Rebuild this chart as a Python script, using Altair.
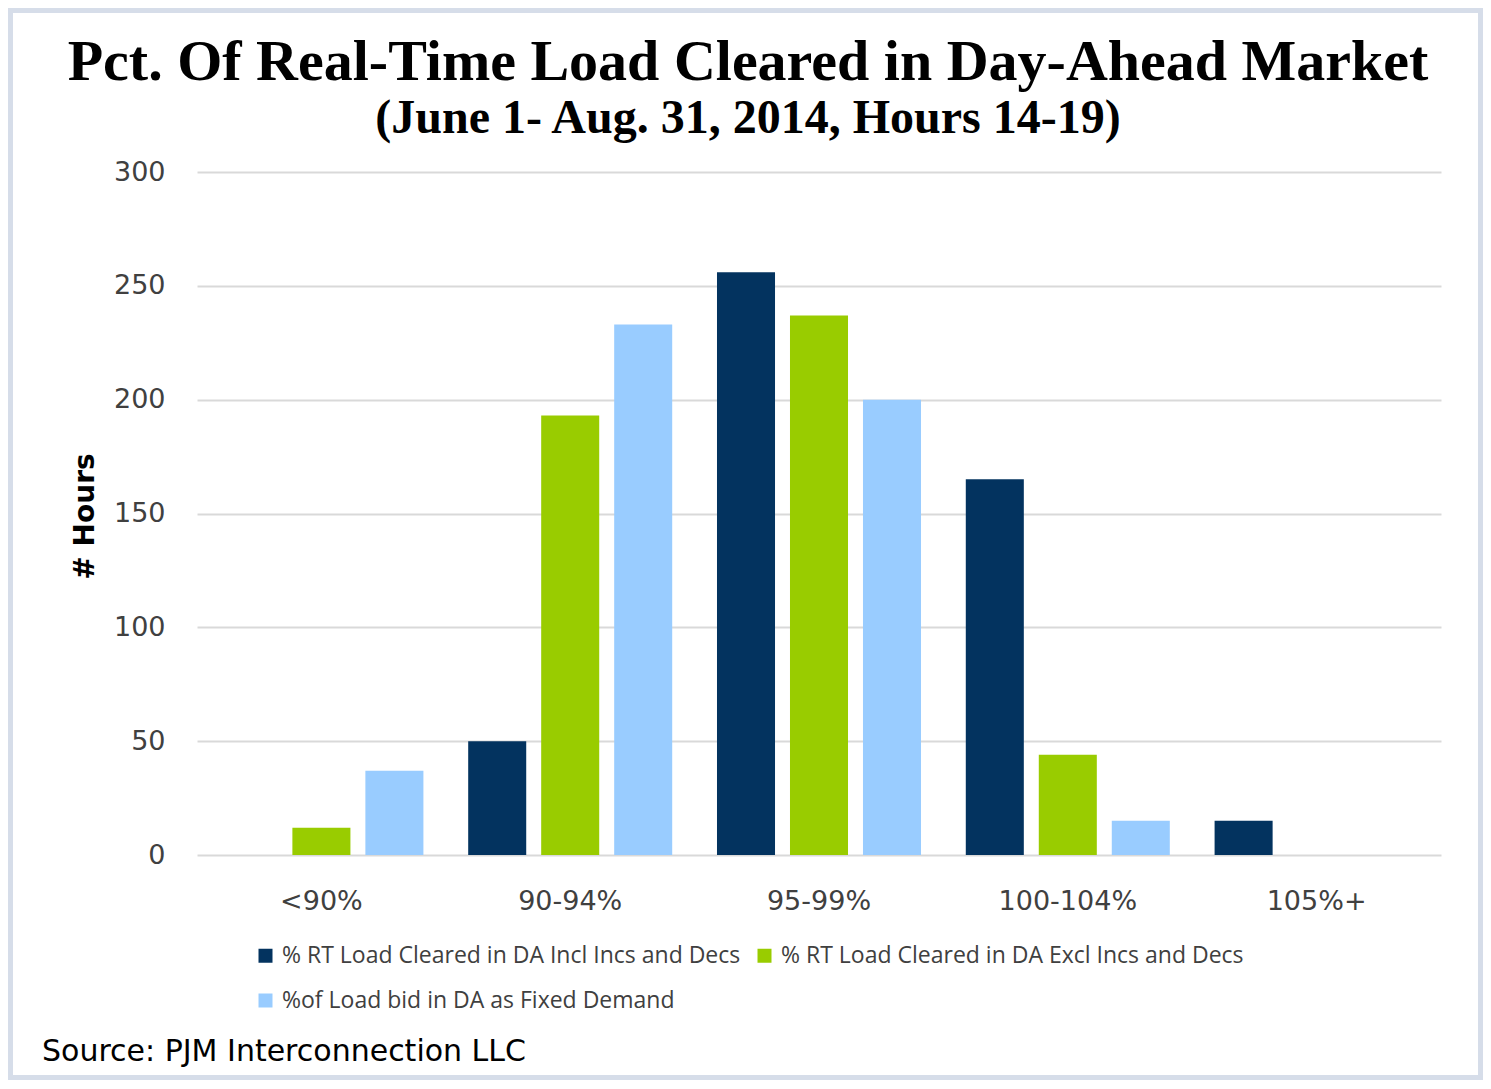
import altair as alt
import pandas as pd

categories = ["<90%", "90-94%", "95-99%", "100-104%", "105%+"]
series = [
    "% RT Load Cleared in DA Incl Incs and Decs",
    "% RT Load Cleared in DA Excl Incs and Decs",
    "%of Load bid in DA as Fixed Demand",
]
incl_vals = [0, 50, 256, 165, 15]
excl_vals = [12, 193, 237, 44, 0]
fixed_vals = [37, 233, 200, 15, 0]
colors = ["#03335f", "#99cc00", "#99ccff"]
y_ticks = [0, 50, 100, 150, 200, 250, 300]
title_text = "Pct. Of Real-Time Load Cleared in Day-Ahead Market"
subtitle_text = "(June 1- Aug. 31, 2014, Hours 14-19)"
source_text = "Source: PJM Interconnection LLC"

rows = []
for s, vals in zip(series, [incl_vals, excl_vals, fixed_vals]):
    for c, v in zip(categories, vals):
        rows.append({"cat": c, "series": s, "hours": v})
df = pd.DataFrame(rows)

# legend is laid out column-major: order entries so rows read Incl, Excl / Fixed
legend_order = [series[0], series[2], series[1]]
legend_colors = [colors[0], colors[2], colors[1]]

bars = alt.Chart(df).mark_bar().encode(
    x=alt.X("cat:N", sort=categories,
            scale=alt.Scale(paddingInner=0.18, paddingOuter=0.09),
            axis=alt.Axis(title=None, labelAngle=0, ticks=False, domain=False,
                          labelFont="DejaVu Sans", labelFontSize=27,
                          labelColor="#404040", labelPadding=33)),
    xOffset=alt.XOffset("series:N", sort=series,
                        scale=alt.Scale(paddingInner=0.205, paddingOuter=0)),
    y=alt.Y("hours:Q", scale=alt.Scale(domain=[0, 300]),
            axis=alt.Axis(values=y_ticks, title="# Hours", ticks=False, domain=False,
                          grid=True, gridColor="#d9d9d9", gridWidth=2,
                          labelFont="DejaVu Sans", labelFontSize=27,
                          labelColor="#404040", labelPadding=32,
                          titleFont="DejaVu Sans", titleFontSize=28,
                          titleFontWeight="bold", titleColor="black",
                          titleAngle=270, titleX=-112, titleY=344,
                          titleAlign="center", titleBaseline="middle")),
    color=alt.Color("series:N",
                    scale=alt.Scale(domain=legend_order, range=legend_colors),
                    legend=alt.Legend(title=None, orient="none", legendX=57, legendY=772,
                                      columns=2, columnPadding=12, rowPadding=21,
                                      symbolType="square", symbolSize=196,
                                      symbolStrokeWidth=0, labelOffset=5,
                                      labelFont="Open Sans", labelFontSize=23,
                                      labelColor="#404040", labelLimit=1000)),
)

texts = pd.DataFrame({"title": [title_text], "subtitle": [subtitle_text],
                      "source": [source_text]})

frame = alt.Chart(texts).mark_rect(
    filled=False, stroke="#d6dde9", strokeWidth=5
).encode(
    x=alt.value(-186.5), x2=alt.value(1283.5),
    y=alt.value(-161.5), y2=alt.value(905.5),
)

title_mark = alt.Chart(texts).mark_text(
    align="center", baseline="alphabetic", font="Liberation Serif",
    fontSize=58, fontWeight="bold", color="black"
).encode(text="title:N", x=alt.value(551), y=alt.value(-92))

subtitle_mark = alt.Chart(texts).mark_text(
    align="center", baseline="alphabetic", font="Liberation Serif",
    fontSize=48, fontWeight="bold", color="black"
).encode(text="subtitle:N", x=alt.value(551), y=alt.value(-39))

src = alt.Chart(texts).mark_text(
    align="left", baseline="middle", font="DejaVu Sans", fontSize=30, color="black"
).encode(text="source:N", x=alt.value(-155), y=alt.value(880))

chart = alt.layer(frame, bars, title_mark, subtitle_mark, src).properties(
    width=1244,
    height=683,
    padding={"left": 189, "top": 164, "right": 42, "bottom": 226},
    autosize=alt.AutoSizeParams(type="none"),
    background="white",
).configure_view(stroke=None)

chart.save("out.html", embed_options={"renderer": "svg", "actions": False})
